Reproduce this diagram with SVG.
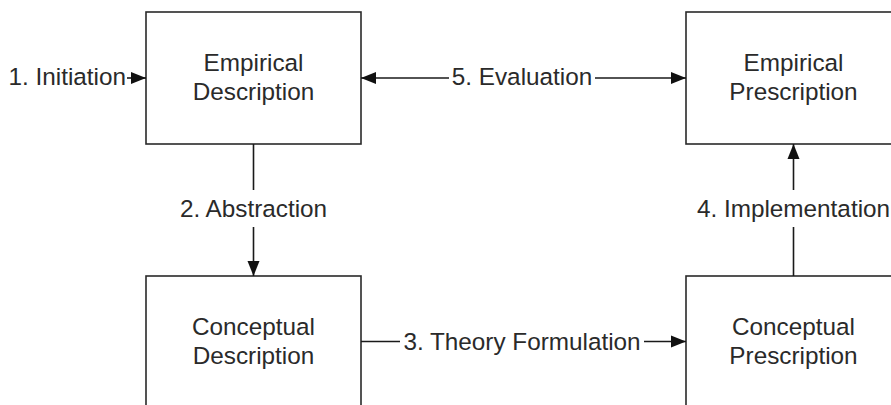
<svg xmlns="http://www.w3.org/2000/svg" width="891" height="405" viewBox="0 0 891 405">
<defs>
<marker id="ah" markerUnits="userSpaceOnUse" markerWidth="16" markerHeight="14" refX="15" refY="6.5" orient="auto" viewBox="0 0 16 14">
<path d="M0,0.5 L15,6.5 L0,12.5 z" fill="#111"/>
</marker>
<style>
.box{fill:#fff;stroke:#2a2a2a;stroke-width:1.6}
.t{font-family:"Liberation Sans",Arial,sans-serif;font-size:24.3px;fill:#2a2a2a;text-anchor:middle}
.c{stroke:#1a1a1a;stroke-width:1.6;fill:none}
.a{marker-end:url(#ah)}
</style>
</defs>
<rect width="891" height="405" fill="#fff"/>
<g id="empirical-description">
<rect class="box" x="146" y="12" width="215" height="132"/>
<text class="t" x="253.5" y="71">Empirical</text>
<text class="t" x="253.5" y="100">Description</text>
</g>
<g id="empirical-prescription">
<rect class="box" x="686" y="12" width="215" height="132"/>
<text class="t" x="793.5" y="71">Empirical</text>
<text class="t" x="793.5" y="100">Prescription</text>
</g>
<g id="conceptual-description">
<rect class="box" x="146" y="276" width="215" height="140"/>
<text class="t" x="253.5" y="335">Conceptual</text>
<text class="t" x="253.5" y="364">Description</text>
</g>
<g id="conceptual-prescription">
<rect class="box" x="686" y="276" width="215" height="140"/>
<text class="t" x="793.5" y="335">Conceptual</text>
<text class="t" x="793.5" y="364">Prescription</text>
</g>
<g id="connectors">
<line class="c a" x1="127" y1="78" x2="146" y2="78"/>
<text class="t" x="126" y="84.5" style="text-anchor:end">1. Initiation</text>
<line class="c" x1="253.5" y1="144" x2="253.5" y2="190"/>
<text class="t" x="253.5" y="217">2. Abstraction</text>
<line class="c a" x1="253.5" y1="227" x2="253.5" y2="276"/>
<line class="c" x1="361" y1="341.5" x2="400" y2="341.5"/>
<text class="t" x="522" y="349.5">3. Theory Formulation</text>
<line class="c a" x1="644" y1="341.5" x2="686" y2="341.5"/>
<line class="c" x1="793.5" y1="276" x2="793.5" y2="227"/>
<text class="t" x="793.5" y="217">4. Implementation</text>
<line class="c a" x1="793.5" y1="190" x2="793.5" y2="144"/>
<line class="c a" x1="449" y1="78" x2="361" y2="78"/>
<text class="t" x="522" y="84.5">5. Evaluation</text>
<line class="c a" x1="595" y1="78" x2="686" y2="78"/>
</g>
</svg>
